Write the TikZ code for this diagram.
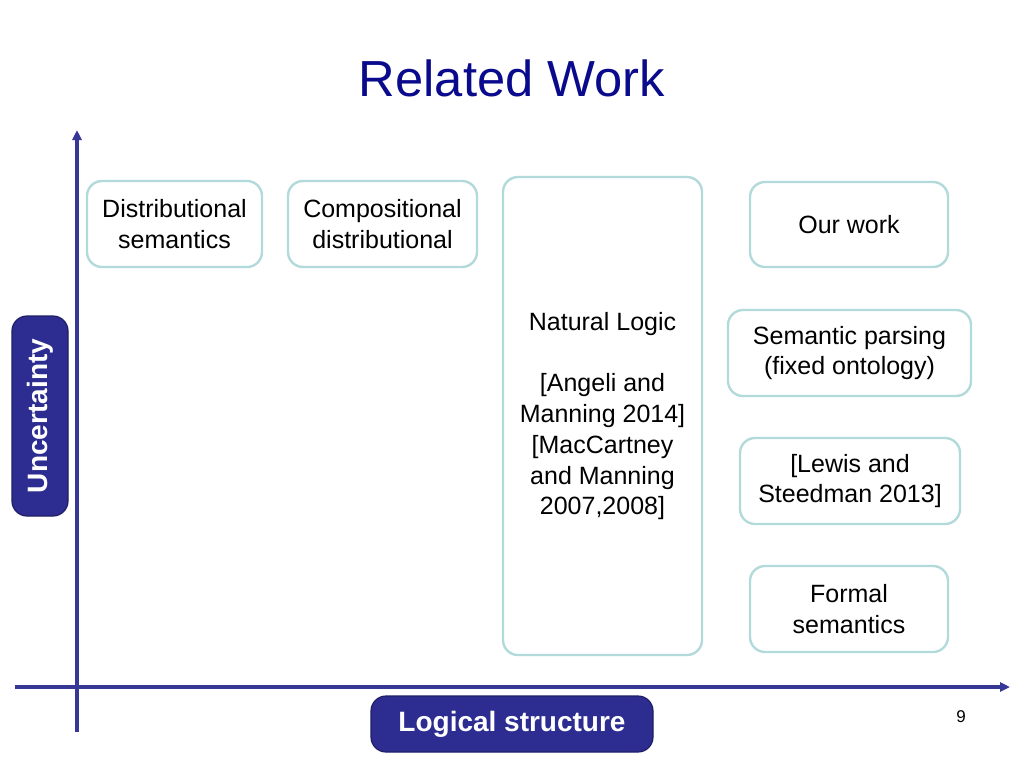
\documentclass[tikz,border=0pt]{standalone}
\usepackage{fontspec}
\setmainfont{Liberation Sans}
\usepackage{xcolor}
\usetikzlibrary{arrows.meta}
\definecolor{titleblue}{RGB}{10,10,140}
\definecolor{axisblue}{RGB}{55,55,150}
\definecolor{tagblue}{RGB}{45,45,145}
\definecolor{tagedge}{RGB}{30,30,100}
\definecolor{boxedge}{RGB}{178,218,218}

\begin{document}
\begin{tikzpicture}[x=1pt,y=-1pt,
 workbox/.style={draw=boxedge, line width=2.4pt, rounded corners=15pt, align=center, inner sep=0pt,
   font=\fontsize{25}{30.8}\selectfont},
 axistag/.style={draw=tagedge, fill=tagblue, line width=1.2pt, rounded corners=15pt, text=white, inner sep=0pt,
   font=\fontsize{28}{32}\selectfont\bfseries},
 axisline/.style={draw=axisblue, line width=3.2pt, -{Triangle[length=10pt,width=9pt]}}]
\useasboundingbox (0,0) rectangle (1024,768);
\node[text=titleblue, font=\fontsize{50.7}{60}\selectfont] (title) at (512,78) {Related Work};
% axes
\coordinate (ybot) at (77,732);
\coordinate (ytop) at (77,130);
\coordinate (xleft) at (15,687);
\coordinate (xright) at (1010,687);
\draw[axisline] (ybot) -- (ytop);
\draw[axisline] (xleft) -- (xright);
\node[axistag, minimum width=200pt, minimum height=56pt, rotate=90] (unc) at (40,416) {Uncertainty};
\node[axistag, minimum width=282pt, minimum height=56pt] (logic) at (512,724) {Logical structure};
% work boxes
\node[workbox, minimum width=175pt, minimum height=86pt] (dist) at (174.5,224) {Distributional\\semantics};
\node[workbox, minimum width=189pt, minimum height=86pt] (comp) at (382.5,224) {Compositional\\distributional};
\node[workbox, minimum width=199pt, minimum height=478pt] (natlog) at (602.5,416)
  {Natural Logic\\[30.8pt]{[}Angeli and\\Manning 2014]\\{[}MacCartney\\and Manning\\2007,2008]};
\node[workbox, minimum width=198pt, minimum height=85pt] (ours) at (849,224.5) {Our work};
\node[workbox, minimum width=243pt, minimum height=86pt] (parse) at (849.5,353) {Semantic parsing\\(fixed ontology)};
\node[workbox, minimum width=220pt, minimum height=86pt] (lewis) at (850,481) {{[}Lewis and\\Steedman 2013]};
\node[workbox, minimum width=198pt, minimum height=86pt] (formal) at (849,609) {Formal\\semantics};
\node[font=\fontsize{17}{20}\selectfont] (page) at (961,717) {9};
\end{tikzpicture}
\end{document}
